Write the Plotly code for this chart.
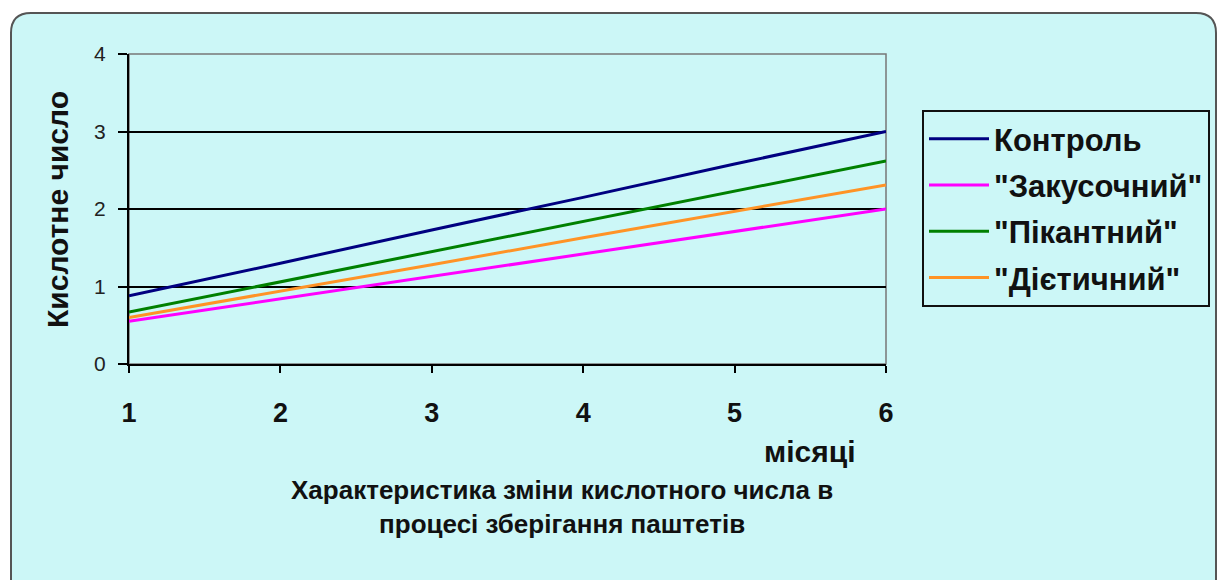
import plotly.graph_objects as go

# Storage time, months
months = [1, 2, 3, 4, 5, 6]

# Acid number of the pâtés over storage
kontrol = [0.88, 1.30, 1.73, 2.15, 2.58, 3.00]
zakusochnyi = [0.55, 0.84, 1.13, 1.42, 1.71, 2.00]
pikantnyi = [0.67, 1.06, 1.45, 1.84, 2.23, 2.62]
dietychnyi = [0.60, 0.94, 1.28, 1.63, 1.97, 2.31]

series_names = ["Контроль", "\"Закусочний\"", "\"Пікантний\"", "\"Дієтичний\""]
series_values = [kontrol, zakusochnyi, pikantnyi, dietychnyi]
series_colors = ["#000080", "#FF00FF", "#008000", "#FF9326"]

y_ticks = [0, 1, 2, 3, 4]
x_ticks = [1, 2, 3, 4, 5, 6]

W, H = 1219, 580
ML, MR, MT, MB = 129, W - 886, 54, H - 364
PW, PH = W - ML - MR, H - MT - MB

BG = "#CCF7F7"
FONT = "Liberation Sans, Arial, sans-serif"


def px(x):
    return (x - ML) / PW


def py(y):
    return (H - MB - y) / PH


fig = go.Figure()
for i, (name, vals, col) in enumerate(zip(series_names, series_values, series_colors)):
    fig.add_trace(go.Scatter(
        x=months, y=vals, mode="lines", name=name,
        line=dict(color=col, width=3),
        legendgroup=f"g{i}",
    ))

# rounded frame of the chart area
x0, x1, y0, y1 = px(11), px(1216), py(13), py(620)
rx, ry = 20 / PW, 20 / PH
frame = (f"M {x0},{y0 - ry} Q {x0},{y0} {x0 + rx},{y0} "
         f"L {x1 - rx},{y0} Q {x1},{y0} {x1},{y0 - ry} "
         f"L {x1},{y1} L {x0},{y1} Z")
shapes = [
    dict(type="path", xref="paper", yref="paper", path=frame,
         fillcolor=BG, line=dict(color="#555555", width=2), layer="below"),
    dict(type="rect", xref="paper", yref="paper", x0=0, x1=1, y0=0, y1=1,
         line=dict(color="#777777", width=1.5), layer="below"),
]

annotations = [
    dict(text="Кислотне число", textangle=-90, xref="paper", yref="paper",
         x=px(58), y=py(210), xanchor="center", yanchor="middle", showarrow=False,
         font=dict(family=FONT, size=30, color="#111111", weight="bold")),
    dict(text="місяці", xref="paper", yref="paper", x=px(810), y=py(451),
         xanchor="center", yanchor="middle", showarrow=False,
         font=dict(family=FONT, size=30, color="#111111", weight="bold")),
    dict(text="Характеристика зміни кислотного числа в<br>процесі зберігання паштетів",
         xref="paper", yref="paper", x=px(562), y=py(507),
         xanchor="center", yanchor="middle", showarrow=False, align="center",
         font=dict(family=FONT, size=26, color="#111111", weight="bold")),
]

fig.update_layout(
    width=W, height=H,
    margin=dict(l=ML, r=MR, t=MT, b=MB, autoexpand=False),
    paper_bgcolor="white",
    plot_bgcolor="rgba(0,0,0,0)",
    showlegend=True,
    legend=dict(
        x=px(922), y=py(110), xanchor="left", yanchor="top",
        bgcolor="rgba(0,0,0,0)", bordercolor="#111111", borderwidth=2,
        font=dict(family=FONT, size=31, color="#111111", weight="bold"),
        tracegroupgap=3, itemwidth=60,
    ),
    shapes=shapes,
    annotations=annotations,
    xaxis=dict(
        range=[1, 6], tickvals=x_ticks, showgrid=False, zeroline=False,
        showline=True, linecolor="black", linewidth=2,
        ticks="outside", ticklen=7, tickcolor="black", tickwidth=1.5,
        ticklabelstandoff=17,
        tickfont=dict(family=FONT, size=27, color="#111111", weight="bold"),
    ),
    yaxis=dict(
        range=[0, 4], tickvals=y_ticks, showgrid=True, gridcolor="black",
        gridwidth=1.5, zeroline=False,
        showline=True, linecolor="black", linewidth=2,
        ticks="outside", ticklen=9, tickcolor="black", tickwidth=1.5,
        ticklabelstandoff=8,
        tickfont=dict(family=FONT, size=21, color="#222222"),
    ),
)

fig.write_html("out.html")
